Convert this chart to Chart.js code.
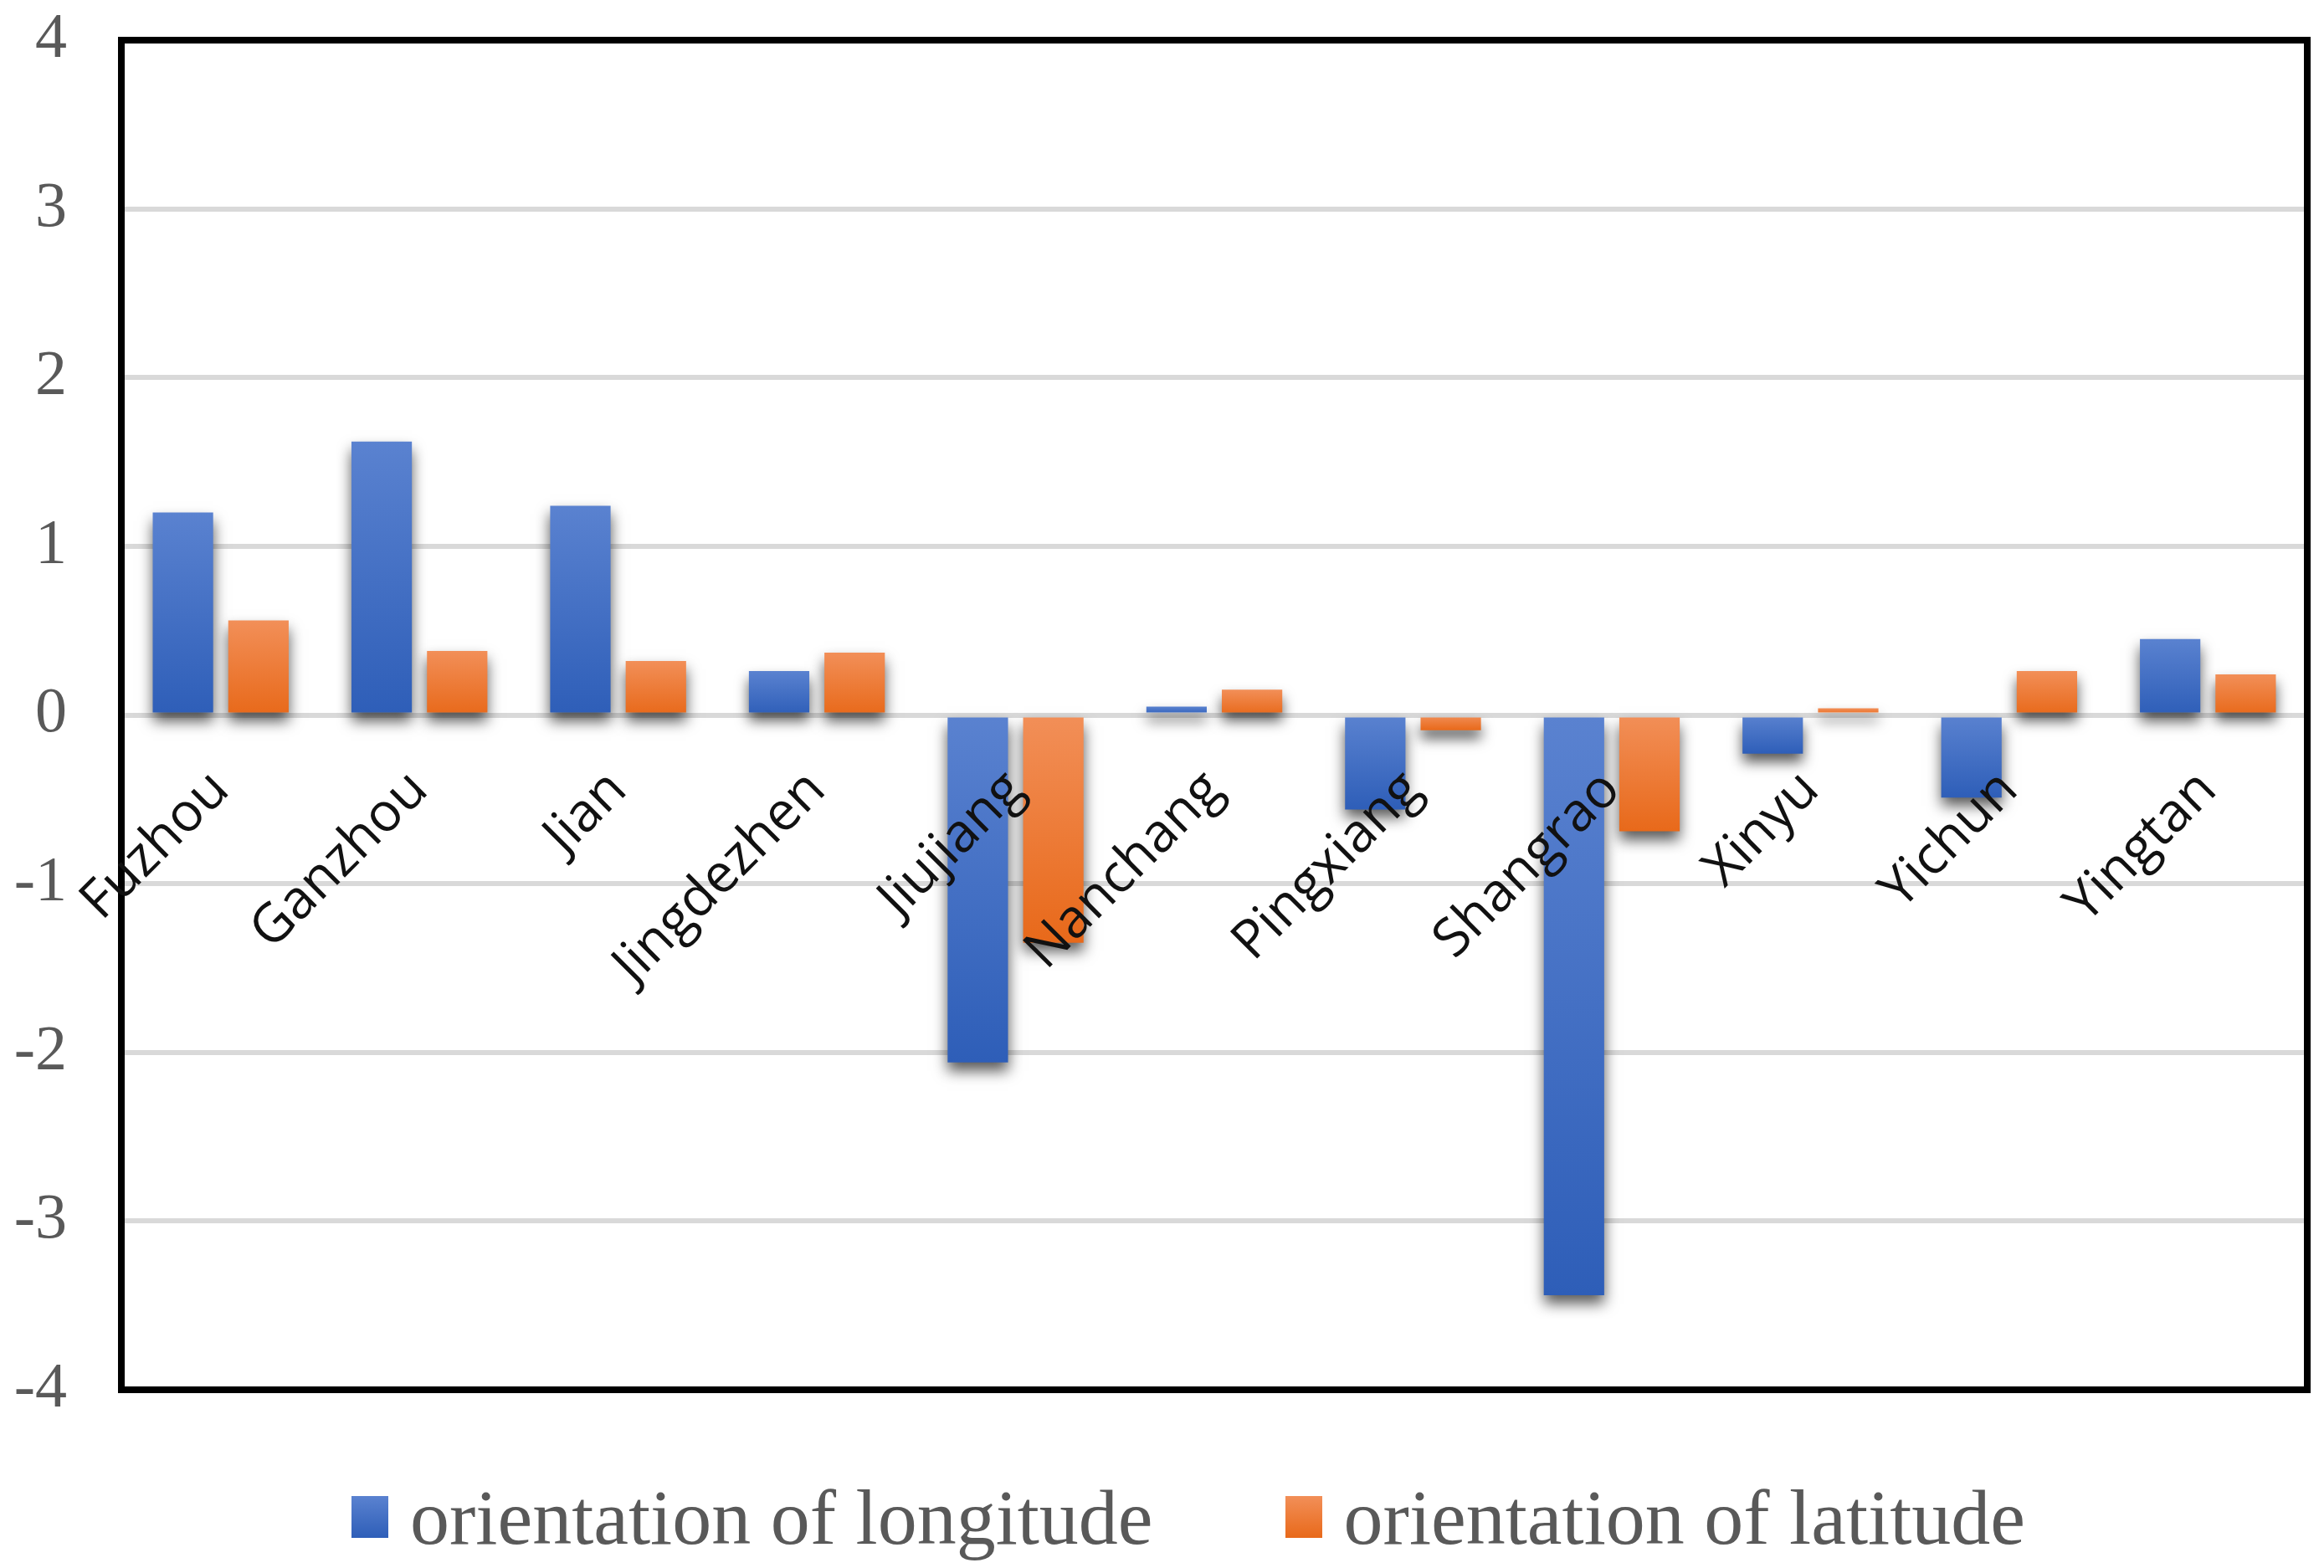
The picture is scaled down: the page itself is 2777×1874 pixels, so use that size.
<!DOCTYPE html>
<html>
<head>
<meta charset="utf-8">
<script src="https://cdn.jsdelivr.net/npm/chart.js@4.4.1/dist/chart.umd.min.js"></script>
<style>
  html, body { margin: 0; padding: 0; background: #fff; }
  #wrap { position: relative; width: 2777px; height: 1874px; }
  #legend {
    position: absolute; left: 420px; top: 1766px; height: 94px;
    display: flex; align-items: center;
    font-family: "Liberation Serif", "Times New Roman", serif;
    font-size: 94px; line-height: 94px; color: #595959; white-space: nowrap;
  }
  .item { display: flex; align-items: center; margin-right: 158px; }
  .box { width: 44px; height: 50px; margin-right: 26px; }
</style>
</head>
<body>
<div id="wrap">
  <canvas id="chart"></canvas>
  <div id="legend"></div>
</div>
<script>
// data
const cities = ['Fuzhou', 'Ganzhou', 'Jian', 'Jingdezhen', 'Jiujiang', 'Nanchang',
                'Pingxiang', 'Shangrao', 'Xinyu', 'Yichun', 'Yingtan'];
const longitude = [1.20, 1.62, 1.24, 0.26, -2.06, 0.05, -0.56, -3.44, -0.23, -0.49, 0.45];
const latitude  = [0.56, 0.38, 0.32, 0.37, -1.35, 0.15, -0.09, -0.69, 0.04, 0.26, 0.24];
const yMin = -4, yMax = 4, yStep = 1;

const seriesNames = ['orientation of longitude', 'orientation of latitude'];
const blue = ['#5A82D0', '#2E5EB8'];
const orange = ['#F28F58', '#E8691A'];

// vertical gradient per bar, light at top, dark at bottom
function barFill(colors) {
    return function (c) {
        const chart = c.chart;
        if (!chart.chartArea || c.raw === undefined) return colors[1];
        const ys = chart.scales.y;
        const a = ys.getPixelForValue(0), b = ys.getPixelForValue(c.raw);
        const top = Math.min(a, b), bottom = Math.max(a, b) + 0.01;
        const g = chart.ctx.createLinearGradient(0, top, 0, bottom);
        g.addColorStop(0, colors[0]);
        g.addColorStop(1, colors[1]);
        return g;
    };
}

// keep the plot box where the layout padding puts it
function noExtraPadding(scale) {
    scale.paddingTop = 0;
    scale.paddingBottom = 0;
    scale.paddingLeft = 0;
    scale.paddingRight = 0;
}

const frame = {
    id: 'frame',
    beforeDatasetsDraw(chart) {
        const ctx = chart.ctx;
        ctx.save();
        ctx.shadowColor = 'rgba(0,0,0,0.65)';
        ctx.shadowBlur = 16;
        ctx.shadowOffsetY = 10;
    },
    afterDatasetsDraw(chart) {
        const ctx = chart.ctx;
        ctx.restore();
        const a = chart.chartArea;
        ctx.save();
        ctx.strokeStyle = '#000';
        ctx.lineWidth = 8;
        ctx.strokeRect(a.left, a.top, a.right - a.left, a.bottom - a.top);
        ctx.restore();
    }
};

const ctx = document.getElementById('chart').getContext('2d');
new Chart(ctx, {
    type: 'bar',
    data: {
        labels: cities,
        datasets: [{
            label: seriesNames[0],
            data: longitude,
            backgroundColor: barFill(blue),
            categoryPercentage: 0.76,
            barPercentage: 0.8
        }, {
            label: seriesNames[1],
            data: latitude,
            backgroundColor: barFill(orange),
            categoryPercentage: 0.76,
            barPercentage: 0.8
        }]
    },
    options: {
        responsive: true,
        maintainAspectRatio: false,
        animation: false,
        layout: { padding: { left: 17, right: 20, top: 48, bottom: 213 } },
        plugins: {
            legend: { display: false },
            tooltip: { enabled: false }
        },
        scales: {
            x: {
                position: { y: 0 },
                afterFit: noExtraPadding,
                grid: { display: false, drawTicks: false },
                border: { display: false },
                ticks: {
                    z: 1,
                    autoSkip: false,
                    maxRotation: 45,
                    minRotation: 45,
                    padding: 52,
                    color: '#111',
                    font: { family: '"Open Sans", "Noto Sans", sans-serif', size: 64 }
                }
            },
            y: {
                min: yMin,
                max: yMax,
                afterFit: function (scale) {
                    noExtraPadding(scale);
                    scale.width = 128;
                },
                grid: { color: '#D9D9D9', lineWidth: 6, drawTicks: false },
                border: { display: false },
                ticks: {
                    stepSize: yStep,
                    padding: 65,
                    color: '#595959',
                    font: { family: '"Liberation Serif", "Times New Roman", serif', size: 76 }
                }
            }
        }
    },
    plugins: [frame]
});

// legend below the plot
const legend = document.getElementById('legend');
[blue, orange].forEach(function (cols, i) {
    const item = document.createElement('div');
    item.className = 'item';
    const box = document.createElement('div');
    box.className = 'box';
    box.style.background = 'linear-gradient(' + cols[0] + ',' + cols[1] + ')';
    const txt = document.createElement('span');
    txt.textContent = seriesNames[i];
    item.appendChild(box);
    item.appendChild(txt);
    legend.appendChild(item);
});
</script>
</body>
</html>
